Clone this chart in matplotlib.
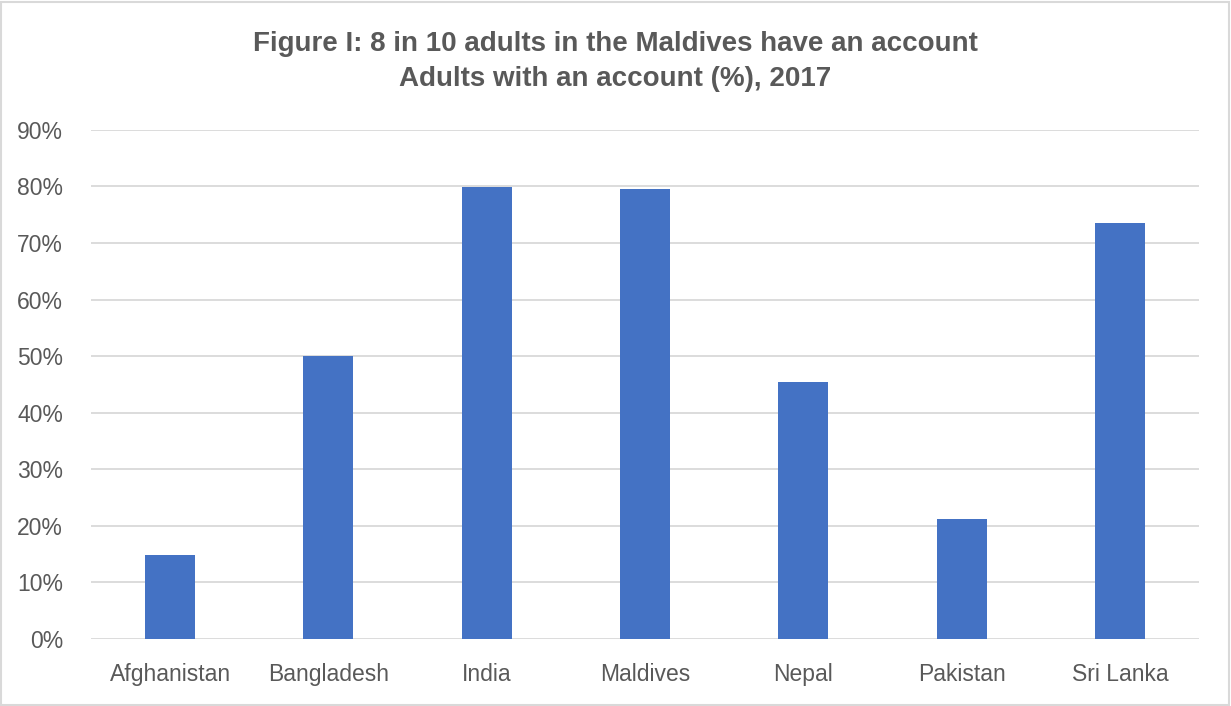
import matplotlib
matplotlib.use('Agg')
import matplotlib.pyplot as plt
from matplotlib.patches import Rectangle
from matplotlib.ticker import FuncFormatter

# Adults with an account (%), 2017
countries = ['Afghanistan', 'Bangladesh', 'India', 'Maldives', 'Nepal', 'Pakistan', 'Sri Lanka']
account_pct = [14.9, 50.0, 79.9, 79.5, 45.4, 21.3, 73.6]

text_color = '#595959'
bar_color = '#4472C4'
grid_color = '#D9D9D9'

plt.rcParams['font.family'] = ['Liberation Sans', 'DejaVu Sans']

fig = plt.figure(figsize=(12.31, 7.06), dpi=100)
ax = fig.add_axes([0.0739, 0.0949, 0.9001, 0.7211])

x = range(len(countries))
ax.bar(x, [v / 100 for v in account_pct], width=0.316, color=bar_color, zorder=3)

ax.set_xlim(-0.5, len(countries) - 0.5)
ax.set_ylim(0, 0.9)
ax.set_yticks([i / 10 for i in range(10)])
ax.yaxis.set_major_formatter(FuncFormatter(lambda v, _: f'{v * 100:.0f}%'))
ax.set_xticks(list(x))
ax.set_xticklabels(countries)

ax.grid(axis='y', color=grid_color, linewidth=1.3, zorder=0)
for s in ax.spines.values():
    s.set_visible(False)
ax.tick_params(axis='both', length=0, labelsize=16.5, colors=text_color)
ax.tick_params(axis='x', pad=17)
ax.tick_params(axis='y', pad=20)

fig.text(0.5, 0.938, 'Figure I: 8 in 10 adults in the Maldives have an account',
         ha='center', va='center', fontsize=20, fontweight='bold', color=text_color)
fig.text(0.5, 0.888, 'Adults with an account (%), 2017',
         ha='center', va='center', fontsize=20, fontweight='bold', color=text_color)

# light frame round the chart
fig.patches.append(Rectangle((0.001, 0.002), 0.997, 0.995, transform=fig.transFigure,
                             fill=False, edgecolor='#D9D9D9', linewidth=1.5))

plt.savefig('out.png', dpi=100)
plt.close()
